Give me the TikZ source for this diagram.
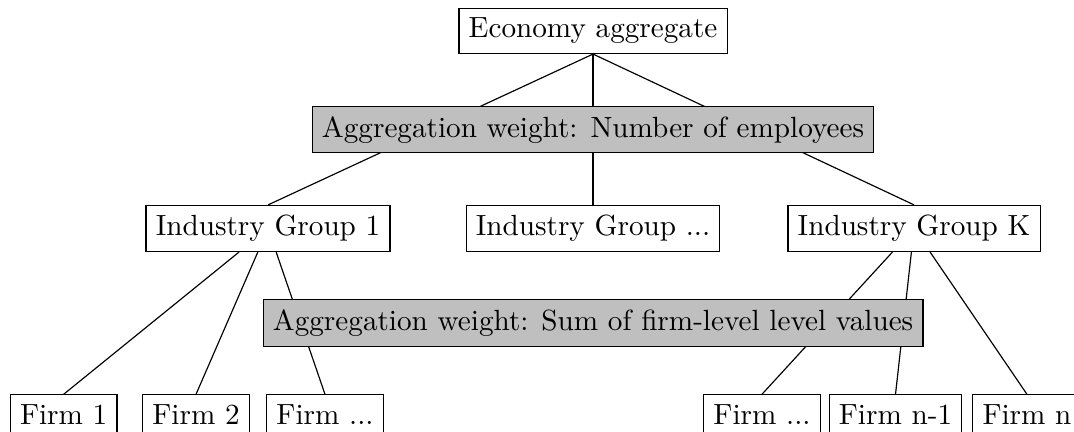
\documentclass[tikz,border=0pt]{standalone}
\usepackage{tikz}
\tikzset{
	levelbox/.style={draw, fill=white},
	weightbox/.style={draw, fill=black!25}
}

\begin{document}
\begin{tikzpicture}
			%%%%% START %%%%%
			
			\useasboundingbox (0, 0) rectangle (12.925, -5.199);
			
			\node[levelbox] (econ) at (7.137, -0.371) {Economy aggregate};
			
			\node[levelbox] (ig1) at (3.226, -2.750) {Industry Group 1};
			\node[levelbox] (igdots) at (7.137, -2.750) {Industry Group ...};
			\node[levelbox] (igk) at (11.000, -2.750) {Industry Group K};
			
			\node[levelbox, anchor=north] (firm1) at (0.766, -4.745) {Firm 1};
			\node[levelbox, anchor=north] (firm2) at (2.359, -4.745) {Firm 2};
			\node[levelbox, anchor=north] (firmdotsa) at (3.911, -4.745) {Firm ...};
			
			\node[levelbox, anchor=north] (firmdotsb) at (9.170, -4.745) {Firm ...};
			\node[levelbox, anchor=north] (firmnm) at (10.777, -4.745) {Firm n-1};
			\node[levelbox, anchor=north] (firmn) at (12.359, -4.745) {Firm n};
			
			\draw (econ.south) -- (ig1.north);
			\draw (econ.south) -- (igdots.north);
			\draw (econ.south) -- (igk.north);
			
			\draw (ig1) -- (firm1.north);
			\draw (ig1) -- (firm2.north);
			\draw (ig1) -- (firmdotsa.north);
			
			\draw (igk) -- (firmdotsb.north);
			\draw (igk) -- (firmnm.north);
			\draw (igk) -- (firmn.north);
			
			\node[weightbox] (weightemp) at (7.137, -1.561) {Aggregation weight: Number of employees};
			\node[weightbox] (weightsum) at (7.137, -3.887) {Aggregation weight: Sum of firm-level level values};
			
			%%%%% END %%%%%
		\end{tikzpicture}
\end{document}
